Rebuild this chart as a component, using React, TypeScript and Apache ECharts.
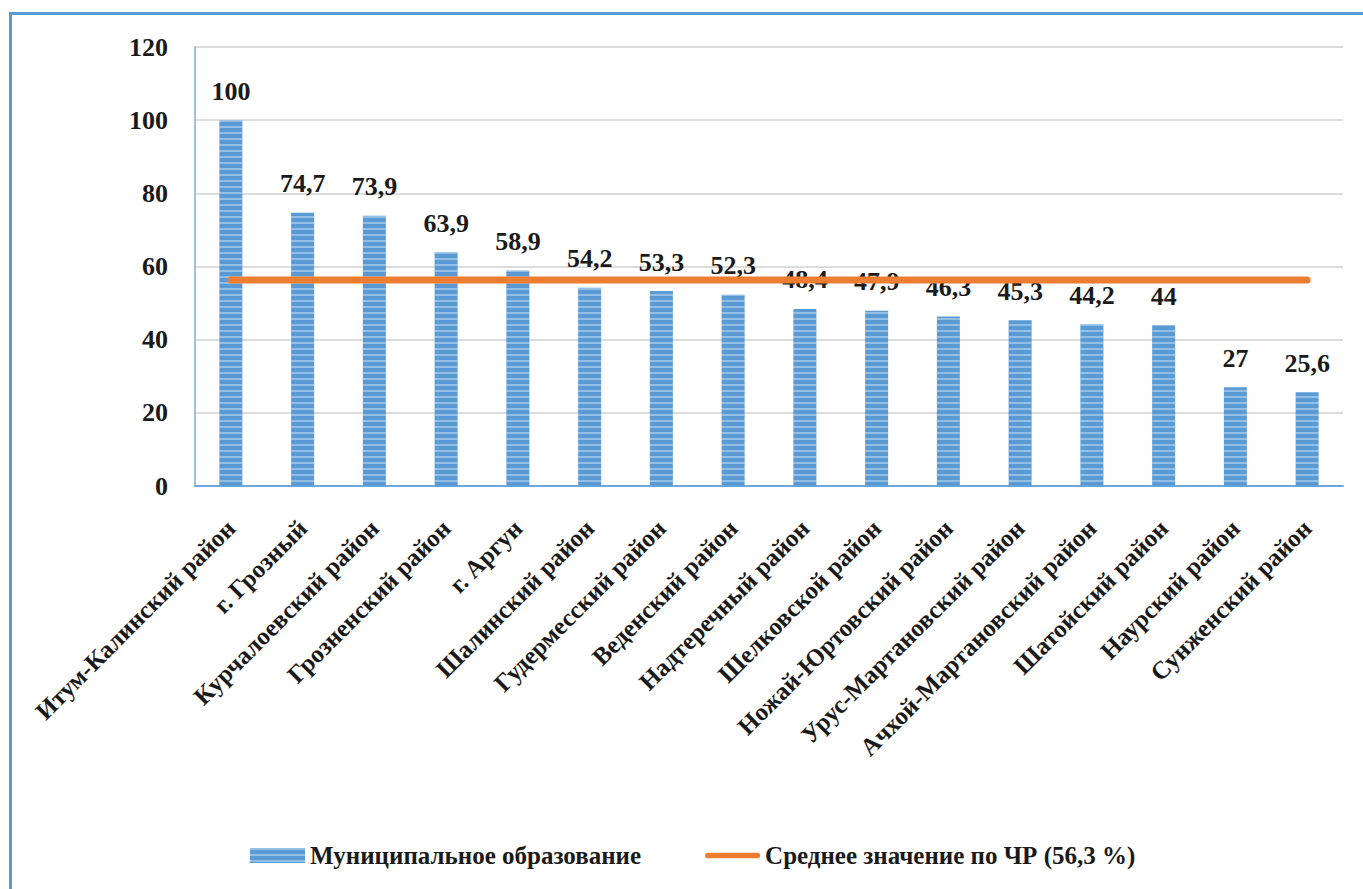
import React, { useEffect, useRef } from "react";
import * as echarts from "echarts";

const categories = [
  "Итум-Калинский район",
  "г. Грозный",
  "Курчалоевский район",
  "Грозненский район",
  "г. Аргун",
  "Шалинский район",
  "Гудермесский район",
  "Веденский район",
  "Надтеречный район",
  "Шелковской район",
  "Ножай-Юртовский район",
  "Урус-Мартановский район",
  "Ачхой-Мартановский район",
  "Шатойский район",
  "Наурский район",
  "Сунженский район",
];
const values = [100, 74.7, 73.9, 63.9, 58.9, 54.2, 53.3, 52.3, 48.4, 47.9, 46.3, 45.3, 44.2, 44, 27, 25.6];
const averageValue = 56.3;
const averageLine = categories.map(() => averageValue);
const seriesNames = ["Муниципальное образование", "Среднее значение по ЧР (56,3 %)"];

const FONT = "Liberation Serif";

export default function App() {
  const ref = useRef<HTMLDivElement>(null);
  useEffect(() => {
    if (!ref.current) return;
    const chart = echarts.init(ref.current, null, { renderer: "svg" });
    chart.setOption({
      animation: false,
      backgroundColor: "#ffffff",
      textStyle: { fontFamily: FONT, fontWeight: "bold" },
      graphic: [
        {
          type: "rect",
          shape: { x: 10.5, y: 13.5, width: 1400, height: 900 },
          style: { fill: "none", stroke: "#5b9bd5", lineWidth: 3 },
          silent: true,
        },
      ],
      grid: { left: 195, right: 20, top: 47, bottom: 403, containLabel: false },
      legend: {
        left: 245,
        top: 838,
        itemGap: 64,
        itemWidth: 55,
        itemHeight: 15,
        textStyle: { fontFamily: FONT, fontWeight: "bold", fontSize: 25, color: "#1a1a1a" },
        data: [
          { name: seriesNames[0], icon: "rect" },
          { name: seriesNames[1], icon: "path://M3,0 H55 A3,3 0 0 1 55,6 H3 A3,3 0 0 1 3,0 Z" },
        ],
      },
      xAxis: {
        type: "category",
        data: categories,
        axisLine: { lineStyle: { color: "#6fa8dc", width: 2 } },
        axisTick: { show: false },
        axisLabel: {
          interval: 0,
          rotate: 45,
          margin: 38,
          fontFamily: FONT,
          fontWeight: "bold",
          fontSize: 25,
          color: "#1a1a1a",
        },
      },
      yAxis: {
        type: "value",
        min: 0,
        max: 120,
        interval: 20,
        axisLine: { show: true, lineStyle: { color: "#9cc3e6", width: 2 } },
        axisTick: { show: false },
        splitLine: { lineStyle: { color: "#dcdcdc", width: 2 } },
        axisLabel: {
          margin: 27,
          fontFamily: FONT,
          fontWeight: "bold",
          fontSize: 26,
          color: "#1a1a1a",
        },
      },
      series: [
        {
          name: seriesNames[0],
          type: "bar",
          data: values,
          barWidth: 23,
          itemStyle: {
            color: "#5b9bd5",
            decal: {
              symbol: "rect",
              symbolSize: 1,
              dashArrayX: [[1, 0]],
              dashArrayY: [2, 4],
              color: "rgba(255,255,255,0.35)",
              rotation: 0,
            },
          },
          label: {
            show: true,
            position: "top",
            distance: 16,
            fontFamily: FONT,
            fontWeight: "bold",
            fontSize: 26,
            color: "#1a1a1a",
            formatter: (p: any) => String(p.value).replace(".", ","),
          },
        },
        {
          name: seriesNames[1],
          type: "line",
          data: averageLine,
          symbol: "none",
          lineStyle: { color: "#ed7d31", width: 7, cap: "round" },
          itemStyle: { color: "#ed7d31" },
          z: 5,
        },
      ],
    });
    return () => chart.dispose();
  }, []);
  return (
    <div
      ref={ref}
      style={{ position: "fixed", left: 0, top: 0, width: 1363, height: 889 }}
    />
  );
}
